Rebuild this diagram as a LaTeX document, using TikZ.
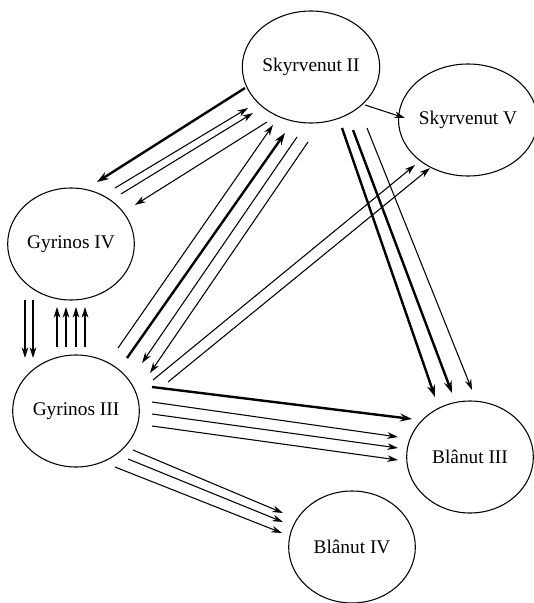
\documentclass[tikz,border=0pt]{standalone}
\usepackage{fontspec}
\setmainfont{Liberation Serif}
\usetikzlibrary{arrows.meta,calc,shapes.geometric}

\begin{document}
\begin{tikzpicture}[
  x=0.75pt,y=-0.75pt,
  body/.style={draw,ellipse,thick,inner sep=0pt,minimum width=95pt,minimum height=84pt,
    font=\fontsize{14.5}{17}\selectfont},
  arr/.style={-{Stealth[length=8pt,width=5pt,inset=2.5pt]},line width=0.8pt},
  bold/.style={-{Stealth[length=9pt,width=6pt,inset=3pt]},line width=1.8pt}
]
  \useasboundingbox (0,0) rectangle (534,603);
  \node[body] (s2) at (311,67) {Skyrvenut II};
  \node[body] (s5) at (468,120) {Skyrvenut V};
  \node[body] (g4) at (71,244) {Gyrinos IV};
  \node[body] (g3) at (76,411) {Gyrinos III};
  \node[body] (b3) at (470,457) {Blânut III};
  \node[body] (b4) at (352,547) {Blânut IV};
  % Skyrvenut II -- Gyrinos IV
  \draw[bold] ($(s2)+(-66,21)$) -- ($(g4)+(26,-62)$);
  \draw[arr] ($(g4)+(44,-56)$) -- ($(s2)+(-63,41)$);
  \draw[arr] ($(g4)+(50,-50)$) -- ($(s2)+(-58,46)$);
  \draw[arr] ($(s2)+(-44,55)$) -- ($(g4)+(64,-39)$);
  % Gyrinos III -- Skyrvenut II
  \draw[arr] ($(g3)+(42,-63)$) -- ($(s2)+(-38,58)$);
  \draw[bold] ($(g3)+(51,-53)$) -- ($(s2)+(-26,66)$);
  \draw[arr] ($(s2)+(-14,70)$) -- ($(g3)+(66,-48)$);
  \draw[arr] ($(s2)+(-3,75)$) -- ($(g3)+(74,-38)$);
  % Gyrinos III -- Skyrvenut V
  \draw[arr] ($(g3)+(77,-31)$) -- ($(s5)+(-53,45)$);
  \draw[arr] ($(g3)+(92,-29)$) -- ($(s5)+(-38,48)$);
  \draw[arr] ($(s2)+(54,38)$) -- ($(s5)+(-63,-2)$);
  % Skyrvenut II -- Blanut III
  \draw[bold] ($(s2)+(31,61)$) -- ($(b3)+(-35,-60)$);
  \draw[bold] ($(s2)+(42,63)$) -- ($(b3)+(-18,-64)$);
  \draw[arr] ($(s2)+(56,61)$) -- ($(b3)+(2,-67)$);
  % Gyrinos IV -- Gyrinos III
  \foreach \dx in {-46,-38}
    \draw[arr] ($(g4)+(\dx,56)$) -- ($(g3)+(\dx-5,-53)$);
  \foreach \dx in {-19,-10,0,9}
    \draw[arr] ($(g3)+(\dx,-64)$) -- ($(g4)+(\dx+5,63)$);
  % Gyrinos III -- Blanut III
  \draw[bold] ($(g3)+(76,-24)$) -- ($(b3)+(-58,-38)$);
  \draw[arr] ($(g3)+(76,-9)$) -- ($(b3)+(-72,-20)$);
  \draw[arr] ($(g3)+(76,3)$) -- ($(b3)+(-72,-9)$);
  \draw[arr] ($(g3)+(76,15)$) -- ($(b3)+(-72,3)$);
  % Gyrinos III -- Blanut IV
  \draw[arr] ($(g3)+(57,39)$) -- ($(b4)+(-69,-34)$);
  \draw[arr] ($(g3)+(52,48)$) -- ($(b4)+(-69,-25)$);
  \draw[arr] ($(g3)+(39,56)$) -- ($(b4)+(-70,-14)$);
\end{tikzpicture}
\end{document}
